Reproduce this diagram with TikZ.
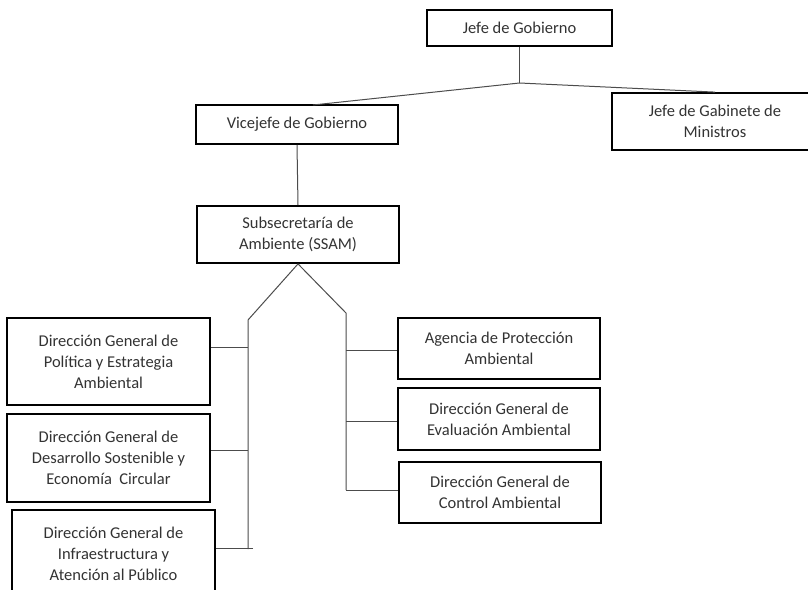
\documentclass[tikz,border=0pt]{standalone}
\usepackage{fontspec}
\setmainfont{Carlito}
\usetikzlibrary{calc}
\begin{document}
\begin{tikzpicture}[x=1pt,y=-1pt,
  orgbox/.style={draw=black,line width=1.8pt,fill=white,inner sep=0pt,align=center,
    text=black!80,font=\fontsize{16.5}{21}\selectfont},
  conn/.style={draw=black!70,line width=1pt}]
\useasboundingbox[fill=white] (0,0) rectangle (808,589);
% boxes
\node[orgbox,minimum width=185pt,minimum height=36pt] (jefe) at (519.5,28) {Jefe de Gobierno};
\node[orgbox,minimum width=202pt,minimum height=39pt] (vice) at (297,124.5) {Vicejefe de Gobierno};
\node[orgbox,minimum width=206pt,minimum height=57pt] (gab) at (715,121.5) {Jefe de Gabinete de\\Ministros};
\node[orgbox,minimum width=202pt,minimum height=57pt] (sub) at (298,234.5) {Subsecretaría de\\Ambiente (SSAM)};
\node[orgbox,minimum width=203pt,minimum height=87pt] (dg1) at (108.5,361.5) {Dirección General de\\Política y Estrategia\\Ambiental};
\node[orgbox,minimum width=203pt,minimum height=88pt] (dg2) at (108.5,458) {Dirección General de\\Desarrollo Sostenible y\\Economía\ \ Circular};
\node[orgbox,minimum width=203pt,minimum height=88pt] (dg3) at (113.5,554) {Dirección General de\\Infraestructura y\\Atención al Público};
\node[orgbox,minimum width=202pt,minimum height=61pt] (apa) at (499,348.5) {Agencia de Protección\\Ambiental};
\node[orgbox,minimum width=202pt,minimum height=62pt] (dgea) at (499,419) {Dirección General de\\Evaluación Ambiental};
\node[orgbox,minimum width=202pt,minimum height=61pt] (dgca) at (500,492.5) {Dirección General de\\Control Ambiental};
% connector points
\coordinate (j) at (519.5,83);
\coordinate (vl) at (313,105);
\coordinate (L1) at (248,320);
\coordinate (L2) at (248,549);
\coordinate (R1) at (346,313);
\coordinate (R2) at (346,490);
\coordinate (b1) at (248,347);
\coordinate (b2) at (248,450);
\coordinate (b3) at (253,548);
\coordinate (c1) at (346,350);
\coordinate (c2) at (346,421);
% connectors
\draw[conn] (jefe.south) -- (j);
\draw[conn] (j) -- (vl);
\draw[conn] (j) -- (gab.north);
\draw[conn] (vice.south) -- (sub.north);
\draw[conn] (sub.south) -- (L1) -- (L2);
\draw[conn] (sub.south) -- (R1) -- (R2);
\draw[conn] (b1) -- (b1 -| dg1.east);
\draw[conn] (b2) -- (b2 -| dg2.east);
\draw[conn] (b3) -- (b3 -| dg3.east);
\draw[conn] (c1) -- (c1 -| apa.west);
\draw[conn] (c2) -- (c2 -| dgea.west);
\draw[conn] (R2) -- (R2 -| dgca.west);
\end{tikzpicture}
\end{document}
